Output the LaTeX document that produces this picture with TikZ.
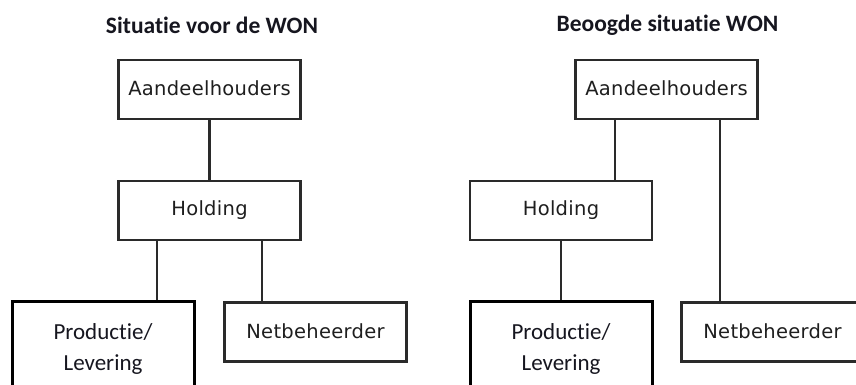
\documentclass[tikz,border=0pt]{standalone}
\usepackage{fontspec}
\setmainfont{DejaVu Sans}
\newfontfamily\boxfont{DejaVu Sans}[LetterSpace=1.5]
\newfontfamily\calfont{Carlito}[Ligatures=NoCommon]
\definecolor{linegrey}{HTML}{2A2A2A}
\definecolor{textgrey}{HTML}{1E1E1E}
\definecolor{titleink}{HTML}{16161F}
\begin{document}
\begin{tikzpicture}[x=1pt,y=-1pt,
  orgbox/.style={draw=linegrey,line width=2.2pt,minimum width=182pt,minimum height=59pt,
    inner sep=0pt,text=textgrey,font=\boxfont\fontsize{19.5}{21}\selectfont},
  mainbox/.style={draw=black,line width=3pt,minimum width=182pt,minimum height=96pt,
    inner sep=0pt,align=center,text=titleink,font=\calfont\fontsize{23}{31}\selectfont},
  title/.style={font=\calfont\bfseries\fontsize{23.5}{26}\selectfont,text=titleink},
  link/.style={draw=linegrey,line width=2.2pt}]
\useasboundingbox (0,0) rectangle (856,385);
\clip (0,0) rectangle (856,385);

% ---- current structure ----
\node[title] (t1) at (212,25) {Situatie voor de WON};
\node[orgbox] (a1) at (209.5,89.5) {\raisebox{3pt}{Aandeelhouders}};
\node[orgbox] (h1) at (209.5,210.5) {\raisebox{1pt}{Holding}};
\node[mainbox] (p1) at (103,349) {Productie/\\Levering};
\node[orgbox] (n1) at (315.5,332) {\raisebox{2pt}{Netbeheerder}};

\draw[link] (a1.south) -- (h1.north);
\draw[link] ([xshift=-52.5pt]h1.south) -- ([xshift=-52.5pt]h1.south |- p1.north);
\draw[link] ([xshift=52.5pt]h1.south) -- ([xshift=52.5pt]h1.south |- n1.north);

% ---- intended structure ----
\node[title] (t2) at (667.5,25) {Beoogde situatie WON};
\node[orgbox] (a2) at (666.5,89.5) {\raisebox{3pt}{Aandeelhouders}};
\node[orgbox] (h2) at (561,210.5) {\raisebox{1pt}{Holding}};
\node[mainbox] (p2) at (561,349) {Productie/\\Levering};
\node[orgbox] (n2) at (772.5,332) {\raisebox{2pt}{Netbeheerder}};

\draw[link] ([xshift=-51.5pt]a2.south) -- ([xshift=-51.5pt]a2.south |- h2.north);
\draw[link] ([xshift=53.5pt]a2.south) -- ([xshift=53.5pt]a2.south |- n2.north);
\draw[link] (h2.south) -- (p2.north);
\end{tikzpicture}
\end{document}
